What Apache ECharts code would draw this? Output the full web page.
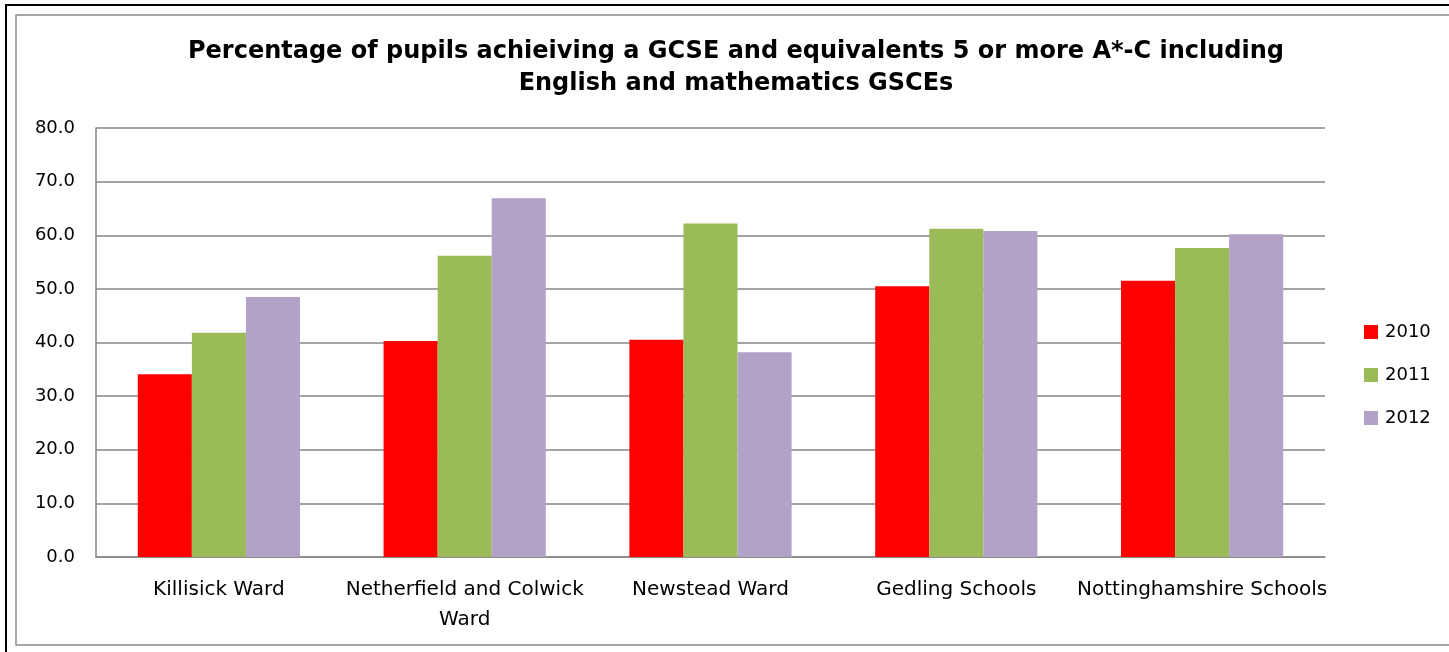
<!DOCTYPE html>
<html>
<head>
<meta charset="utf-8">
<script src="https://cdn.jsdelivr.net/npm/echarts@6/dist/echarts.min.js"></script>
<style>
html,body{margin:0;padding:0;background:#fff;}
#chart{width:1449px;height:652px;}
</style>
</head>
<body>
<div id="chart"></div>
<script>
var categories = ['Killisick Ward', 'Netherfield and Colwick Ward', 'Newstead Ward', 'Gedling Schools', 'Nottinghamshire Schools'];
var tickLabels = ['Killisick Ward', 'Netherfield and Colwick\nWard', 'Newstead Ward', 'Gedling Schools', 'Nottinghamshire Schools'];
var years = ['2010', '2011', '2012'];
var values2010 = [34.1, 40.3, 40.5, 50.5, 51.5];
var values2011 = [41.8, 56.2, 62.2, 61.2, 57.6];
var values2012 = [48.5, 66.9, 38.2, 60.8, 60.2];
var colors = ['#FF0000', '#9BBB59', '#B3A2C7'];

var chart = echarts.init(document.getElementById('chart'), null, {renderer: 'canvas'});
var font = 'DejaVu Sans';
var seriesData = [values2010, values2011, values2012];
chart.setOption({
  animation: false,
  backgroundColor: '#ffffff',
  graphic: [
    {type: 'rect', shape: {x: 6, y: 5, width: 1500, height: 700}, style: {fill: 'none', stroke: '#000', lineWidth: 2}, z: 100},
    {type: 'rect', shape: {x: 16, y: 15, width: 1500, height: 630}, style: {fill: 'none', stroke: '#8a8a8a', lineWidth: 1.5}, z: 100}
  ],
  title: {
    text: 'Percentage of pupils achieiving a GCSE and equivalents 5 or more A*-C including\nEnglish and mathematics GSCEs',
    left: 736,
    textAlign: 'center',
    top: 36,
    padding: 0,
    textStyle: {fontFamily: 'DejaVu Sans', fontWeight: 'bold', fontSize: 24, lineHeight: 32, color: '#000'}
  },
  legend: {
    orient: 'vertical',
    left: 1364,
    top: 323,
    itemWidth: 14,
    itemHeight: 14,
    itemGap: 25,
    padding: 0,
    icon: 'rect',
    data: years,
    textStyle: {fontFamily: font, fontSize: 18, color: '#000', padding: [0, 0, 0, 2]}
  },
  grid: {left: 96, right: 124, top: 128, bottom: 95, containLabel: false},
  xAxis: {
    type: 'category',
    data: categories,
    axisLine: {lineStyle: {color: '#868686', width: 1.5}},
    axisTick: {show: false},
    axisLabel: {
      interval: 0,
      margin: 18,
      fontFamily: font,
      fontSize: 20,
      lineHeight: 30,
      color: '#000',
      formatter: function (v, i) { return tickLabels[i]; }
    }
  },
  yAxis: {
    type: 'value',
    min: 0,
    max: 80,
    interval: 10,
    axisLine: {show: true, lineStyle: {color: '#868686', width: 1.5}},
    axisTick: {show: false},
    splitLine: {lineStyle: {color: '#868686', width: 1.5}},
    axisLabel: {
      margin: 21,
      fontFamily: font,
      fontSize: 18,
      color: '#000',
      formatter: function (v) { return v.toFixed(1); }
    }
  },
  series: years.map(function (y, i) {
    return {
      name: y,
      type: 'bar',
      data: seriesData[i],
      barGap: '0%',
      barCategoryGap: '34%',
      itemStyle: {color: colors[i]}
    };
  })
});
</script>
</body>
</html>
